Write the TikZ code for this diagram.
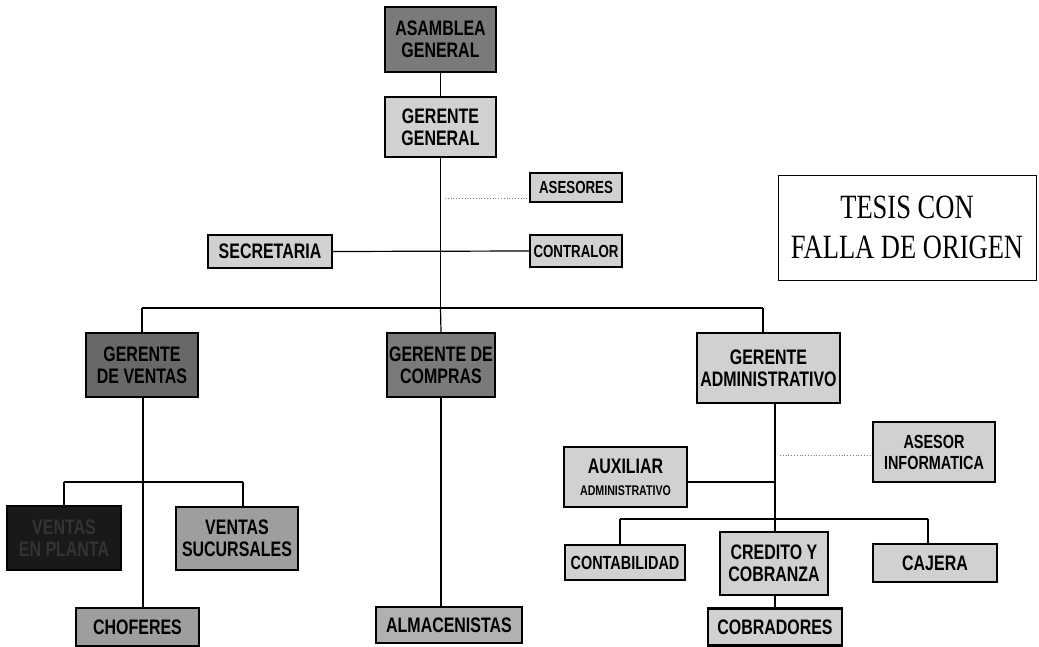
\documentclass[tikz,border=0pt]{standalone}
\usepackage{fontspec}
\newfontfamily\bx{Liberation Sans}[FakeStretch=0.76]
\newfontfamily\ts{Liberation Serif}[FakeStretch=0.78]
\definecolor{lightbox}{gray}{0.82}
\definecolor{midbox}{gray}{0.62}
\definecolor{darkbox}{gray}{0.48}
\definecolor{blackbox}{gray}{0.1}
\tikzset{
  box/.style={draw=black, line width=2.4pt, fill=lightbox, align=center, inner sep=1pt,
    font=\bx\bfseries\fontsize{21}{22}\selectfont, text=black},
  smallbox/.style={box, font=\bx\bfseries\fontsize{19}{21}\selectfont},
  tinybox/.style={box, font=\bx\bfseries\fontsize{17.5}{19}\selectfont},
  conn/.style={draw=black, line width=1.2pt},
  dotconn/.style={draw=gray, line width=0.8pt, dotted},
}
\begin{document}
\begin{tikzpicture}[x=1pt,y=-1pt]
\useasboundingbox (0,0) rectangle (1039,647);
% top
\node[box, fill=darkbox, minimum width=111, minimum height=65] (asamblea) at (440.5,39.5) {ASAMBLEA\\GENERAL};
\node[box, minimum width=111, minimum height=60] (gergen) at (440.5,127) {GERENTE\\GENERAL};
\node[tinybox, minimum width=92, minimum height=29] (asesores) at (576,187.5) {ASESORES};
\node[box, minimum width=124, minimum height=33] (secretaria) at (270,251.5) {SECRETARIA};
\node[tinybox, minimum width=92, minimum height=32] (contralor) at (576,251) {CONTRALOR};
% tesis box
\node[draw=black, line width=0.9pt, minimum width=258, minimum height=105, align=center,
  font=\ts\fontsize{34}{40}\selectfont, inner sep=0pt] (tesis) at (907,227.5) {TESIS CON\\FALLA DE ORIGEN};
% managers
\node[box, fill=darkbox!85!black, minimum width=112, minimum height=64] (gventas) at (142,365) {GERENTE\\DE VENTAS};
\node[box, fill=darkbox, minimum width=108, minimum height=64] (gcompras) at (441,365) {GERENTE DE\\COMPRAS};
\node[box, minimum width=143, minimum height=70] (gadmin) at (768.5,368) {GERENTE\\ADMINISTRATIVO};
% ventas branch
\node[box, fill=blackbox, text=black!80, minimum width=114, minimum height=64] (vplanta) at (64,538) {VENTAS\\EN PLANTA};
\node[box, fill=midbox, minimum width=122, minimum height=63] (sucursales) at (237,538.5) {VENTAS\\SUCURSALES};
\node[box, fill=midbox, minimum width=123, minimum height=38] (choferes) at (137.5,627) {CHOFERES};
% compras branch
\node[box, fill=midbox!80!white, minimum width=146, minimum height=36] (almacen) at (449,625) {ALMACENISTAS};
% admin branch
\node[smallbox, minimum width=122, minimum height=60] (asesorinf) at (934,452) {ASESOR\\INFORMATICA};
\node[box, minimum width=123, minimum height=60] (auxiliar) at (625.5,477) {AUXILIAR\\{\fontsize{14}{16}\selectfont ADMINISTRATIVO}};
\node[smallbox, minimum width=120, minimum height=35] (contab) at (625,562.5) {CONTABILIDAD};
\node[box, minimum width=108, minimum height=63] (credito) at (774,563.5) {CREDITO Y\\COBRANZA};
\node[box, minimum width=124, minimum height=38] (cajera) at (935,563) {CAJERA};
\node[box, minimum width=134, minimum height=37] (cobradores) at (775,627) {COBRADORES};
% junction coordinates
\coordinate (jase) at (445,198);
\coordinate (jbusL) at (142,308);
\coordinate (jbusC) at (440.5,308);
\coordinate (jbusR) at (763,308);
\coordinate (jv) at (143,482);
\coordinate (jvL) at (64,482);
\coordinate (jvR) at (243,482);
\coordinate (ja) at (775,482);
\coordinate (jinf) at (780,455);
\coordinate (jc) at (775,519);
\coordinate (jcL) at (620,519);
\coordinate (jcR) at (928,519);
% connectors
\draw[conn] (asamblea) -- (gergen);
\draw[conn] (gergen.south) -- (jbusC);
\draw[conn] (secretaria.east) -- (contralor.west);
\draw[dotconn] (jase) -- (jase -| asesores.west);
\draw[conn] (jbusL) -- (jbusR);
\draw[conn] (jbusL) -- (gventas.north);
\draw[conn] (jbusC) -- (gcompras.north);
\draw[conn] (jbusR) -- (jbusR |- gadmin.north);
\draw[conn] (gventas.south -| jv) -- (jv |- choferes.north);
\draw[conn] (jvL) -- (jvR);
\draw[conn] (jvL) -- (vplanta.north);
\draw[conn] (jvR) -- (jvR |- sucursales.north);
\draw[conn] (gcompras.south) -- (gcompras.south |- almacen.north);
\draw[conn] (gadmin.south -| ja) -- (ja |- credito.north);
\draw[conn] (auxiliar.east |- ja) -- (ja);
\draw[dotconn] (jinf) -- (jinf -| asesorinf.west);
\draw[conn] (jcL) -- (jcR);
\draw[conn] (jcL) -- (jcL |- contab.north);
\draw[conn] (jcR) -- (jcR |- cajera.north);
\draw[conn] (credito.south -| jc) -- (jc |- cobradores.north);
\end{tikzpicture}
\end{document}
